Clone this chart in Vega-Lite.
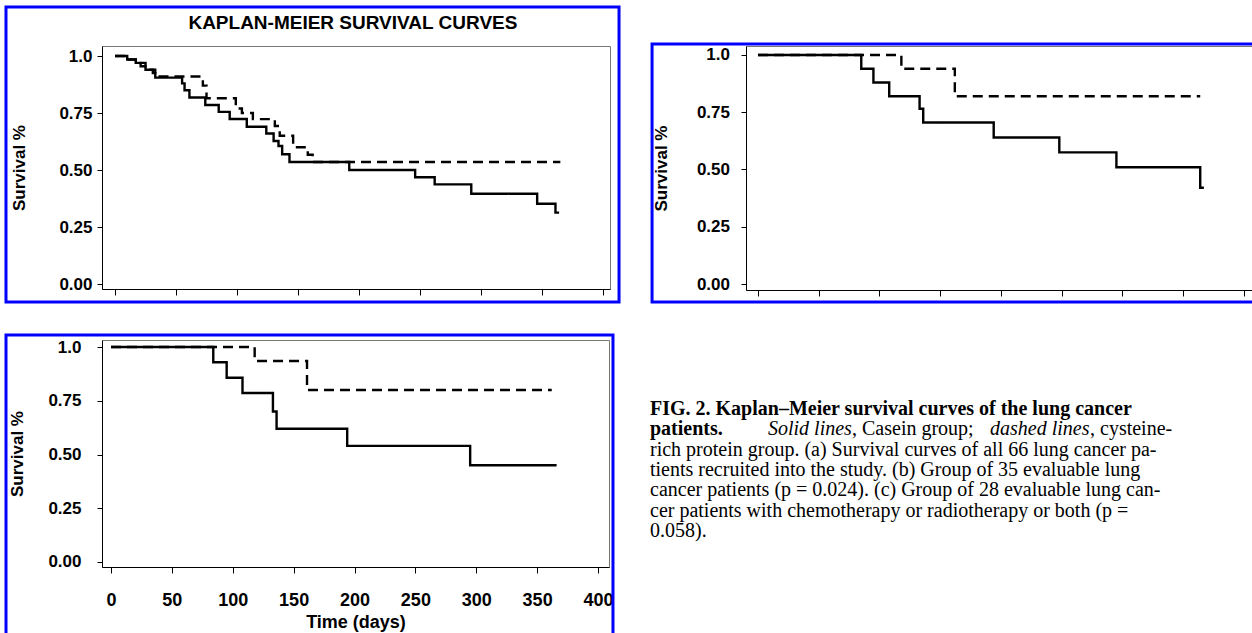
{
  "$schema": "https://vega.github.io/schema/vega-lite/v6.json",
  "padding": {"left": 3, "top": 4, "right": 0, "bottom": 0},
  "background": "white",
  "config": {
    "view": {"stroke": "#777", "strokeWidth": 1},
    "axis": {"domainColor": "#000", "tickColor": "#000", "labelColor": "#000", "titleColor": "#000", "labelFont": "Liberation Sans", "titleFont": "Liberation Sans", "labelFontWeight": "bold", "titleFontWeight": "bold", "labelFontSize": 17, "titleFontSize": 17, "grid": false, "tickSize": 5, "domainWidth": 1, "tickWidth": 1}
  },
  "datasets": {
    "km": [
      {"panel": "a", "group": "Casein", "day": 0, "surv": 1.0},
      {"panel": "a", "group": "Casein", "day": 10, "surv": 0.985},
      {"panel": "a", "group": "Casein", "day": 17, "surv": 0.97},
      {"panel": "a", "group": "Casein", "day": 21, "surv": 0.955},
      {"panel": "a", "group": "Casein", "day": 25, "surv": 0.94},
      {"panel": "a", "group": "Casein", "day": 31, "surv": 0.925},
      {"panel": "a", "group": "Casein", "day": 33, "surv": 0.905},
      {"panel": "a", "group": "Casein", "day": 55, "surv": 0.88},
      {"panel": "a", "group": "Casein", "day": 57, "surv": 0.85},
      {"panel": "a", "group": "Casein", "day": 61, "surv": 0.818},
      {"panel": "a", "group": "Casein", "day": 74, "surv": 0.785},
      {"panel": "a", "group": "Casein", "day": 85, "surv": 0.755},
      {"panel": "a", "group": "Casein", "day": 94, "surv": 0.724},
      {"panel": "a", "group": "Casein", "day": 108, "surv": 0.69},
      {"panel": "a", "group": "Casein", "day": 124, "surv": 0.66},
      {"panel": "a", "group": "Casein", "day": 130, "surv": 0.627},
      {"panel": "a", "group": "Casein", "day": 134, "surv": 0.605},
      {"panel": "a", "group": "Casein", "day": 137, "surv": 0.569},
      {"panel": "a", "group": "Casein", "day": 143, "surv": 0.535},
      {"panel": "a", "group": "Casein", "day": 192, "surv": 0.5},
      {"panel": "a", "group": "Casein", "day": 246, "surv": 0.468},
      {"panel": "a", "group": "Casein", "day": 262, "surv": 0.437},
      {"panel": "a", "group": "Casein", "day": 292, "surv": 0.396},
      {"panel": "a", "group": "Casein", "day": 346, "surv": 0.352},
      {"panel": "a", "group": "Casein", "day": 361, "surv": 0.313},
      {"panel": "a", "group": "Casein", "day": 364, "surv": 0.313},
      {"panel": "a", "group": "Cysteine-rich protein", "day": 0, "surv": 1.0},
      {"panel": "a", "group": "Cysteine-rich protein", "day": 10, "surv": 0.985},
      {"panel": "a", "group": "Cysteine-rich protein", "day": 17, "surv": 0.97},
      {"panel": "a", "group": "Cysteine-rich protein", "day": 25, "surv": 0.94},
      {"panel": "a", "group": "Cysteine-rich protein", "day": 33, "surv": 0.91},
      {"panel": "a", "group": "Cysteine-rich protein", "day": 72, "surv": 0.87},
      {"panel": "a", "group": "Cysteine-rich protein", "day": 75, "surv": 0.815},
      {"panel": "a", "group": "Cysteine-rich protein", "day": 99, "surv": 0.77},
      {"panel": "a", "group": "Cysteine-rich protein", "day": 104, "surv": 0.75},
      {"panel": "a", "group": "Cysteine-rich protein", "day": 113, "surv": 0.723},
      {"panel": "a", "group": "Cysteine-rich protein", "day": 131, "surv": 0.693},
      {"panel": "a", "group": "Cysteine-rich protein", "day": 135, "surv": 0.65},
      {"panel": "a", "group": "Cysteine-rich protein", "day": 146, "surv": 0.6},
      {"panel": "a", "group": "Cysteine-rich protein", "day": 158, "surv": 0.567},
      {"panel": "a", "group": "Cysteine-rich protein", "day": 162, "surv": 0.535},
      {"panel": "a", "group": "Cysteine-rich protein", "day": 365, "surv": 0.535},
      {"panel": "b", "group": "Casein", "day": 0, "surv": 1.0},
      {"panel": "b", "group": "Casein", "day": 85, "surv": 0.94},
      {"panel": "b", "group": "Casein", "day": 95, "surv": 0.88},
      {"panel": "b", "group": "Casein", "day": 108, "surv": 0.82},
      {"panel": "b", "group": "Casein", "day": 133, "surv": 0.765},
      {"panel": "b", "group": "Casein", "day": 136, "surv": 0.705},
      {"panel": "b", "group": "Casein", "day": 194, "surv": 0.64},
      {"panel": "b", "group": "Casein", "day": 248, "surv": 0.575},
      {"panel": "b", "group": "Casein", "day": 295, "surv": 0.51},
      {"panel": "b", "group": "Casein", "day": 364, "surv": 0.42},
      {"panel": "b", "group": "Casein", "day": 367, "surv": 0.42},
      {"panel": "b", "group": "Cysteine-rich protein", "day": 0, "surv": 1.0},
      {"panel": "b", "group": "Cysteine-rich protein", "day": 118, "surv": 0.94},
      {"panel": "b", "group": "Cysteine-rich protein", "day": 162, "surv": 0.82},
      {"panel": "b", "group": "Cysteine-rich protein", "day": 364, "surv": 0.82},
      {"panel": "c", "group": "Casein", "day": 0, "surv": 1.0},
      {"panel": "c", "group": "Casein", "day": 84, "surv": 0.929},
      {"panel": "c", "group": "Casein", "day": 95, "surv": 0.857},
      {"panel": "c", "group": "Casein", "day": 108, "surv": 0.786},
      {"panel": "c", "group": "Casein", "day": 133, "surv": 0.7},
      {"panel": "c", "group": "Casein", "day": 136, "surv": 0.62},
      {"panel": "c", "group": "Casein", "day": 194, "surv": 0.54},
      {"panel": "c", "group": "Casein", "day": 295, "surv": 0.45},
      {"panel": "c", "group": "Casein", "day": 366, "surv": 0.45},
      {"panel": "c", "group": "Cysteine-rich protein", "day": 0, "surv": 1.0},
      {"panel": "c", "group": "Cysteine-rich protein", "day": 118, "surv": 0.935},
      {"panel": "c", "group": "Cysteine-rich protein", "day": 161, "surv": 0.8},
      {"panel": "c", "group": "Cysteine-rich protein", "day": 362, "surv": 0.8}
    ],
    "caption_bold": [
      {"line": 1, "text": "FIG. 2. Kaplan–Meier survival curves of the lung cancer"},
      {"line": 2, "text": "patients."}
    ],
    "caption_line2": [
      {"seg": 1, "line": 2, "text": "Solid lines"},
      {"seg": 2, "line": 2, "text": ", Casein group;"},
      {"seg": 3, "line": 2, "text": "dashed lines"},
      {"seg": 4, "line": 2, "text": ", cysteine-"}
    ],
    "caption_text": [
      {"line": 3, "text": "rich protein group. (a) Survival curves of all 66 lung cancer pa-"},
      {"line": 4, "text": "tients recruited into the study. (b) Group of 35 evaluable lung"},
      {"line": 5, "text": "cancer patients (p = 0.024). (c) Group of 28 evaluable lung can-"},
      {"line": 6, "text": "cer patients with chemotherapy or radiotherapy or both (p ="},
      {"line": 7, "text": "0.058)."}
    ]
  },
  "columns": 2,
  "align": {"row": "each", "column": "none"},
  "spacing": {"row": 28, "column": 28},
  "concat": [
    {
      "width": 508,
      "height": 243,
      "layer": [
        {
          "data": {"values": [{}]},
          "mark": {"type": "rect", "filled": false, "stroke": "#0000ff", "strokeWidth": 3},
          "encoding": {
            "x": {"datum": -89.35, "type": "quantitative"},
            "x2": {"datum": 413.1},
            "y": {"datum": -0.079, "type": "quantitative"},
            "y2": {"datum": 1.215}
          }
        },
        {
          "data": {"values": [{}]},
          "mark": {"type": "text", "align": "center", "baseline": "alphabetic", "font": "Liberation Sans", "fontWeight": "bold", "fontSize": 19, "color": "#000"},
          "encoding": {
            "x": {"datum": 195, "type": "quantitative"},
            "y": {"datum": 1.118, "type": "quantitative"},
            "text": {"value": "KAPLAN-MEIER SURVIVAL CURVES"}
          }
        },
        {
          "data": {"name": "km"},
          "transform": [{"filter": "datum.panel === 'a'"}],
          "mark": {"type": "line", "interpolate": "step-after", "color": "#000", "strokeWidth": 2.4},
          "encoding": {
            "x": {"field": "day", "type": "quantitative", "scale": {"domain": [-10.66, 405.7], "nice": false, "zero": false}, "axis": {"values": [0, 50, 100, 150, 200, 250, 300, 350, 400], "labels": false, "tickSize": 6, "title": null}},
            "y": {"field": "surv", "type": "quantitative", "scale": {"domain": [-0.0219, 1.0439], "nice": false, "zero": false}, "axis": {"values": [0, 0.25, 0.5, 0.75, 1], "labelExpr": "datum.value == 1 ? '1.0' : format(datum.value, '.2f')", "labelPadding": 5, "title": "Survival   %", "titleX": -83, "titleBaseline": "middle"}},
            "strokeDash": {"field": "group", "type": "nominal", "scale": {"domain": ["Casein", "Cysteine-rich protein"], "range": [[1, 0], [10, 6]]}, "legend": null}
          }
        }
      ]
    },
    {
      "width": 510,
      "height": 244,
      "layer": [
        {
          "data": {"values": [{}]},
          "mark": {"type": "rect", "filled": false, "stroke": "#0000ff", "strokeWidth": 3},
          "encoding": {
            "x": {"datum": -87.2, "type": "quantitative"},
            "x2": {"datum": 414.8},
            "y": {"datum": -0.0786, "type": "quantitative"},
            "y2": {"datum": 1.048}
          }
        },
        {
          "data": {"name": "km"},
          "transform": [{"filter": "datum.panel === 'b'"}],
          "mark": {"type": "line", "interpolate": "step-after", "color": "#000", "strokeWidth": 2.4},
          "encoding": {
            "x": {"field": "day", "type": "quantitative", "scale": {"domain": [-9.877, 409.9], "nice": false, "zero": false}, "axis": {"values": [0, 50, 100, 150, 200, 250, 300, 350, 400], "labels": false, "tickSize": 6, "title": null}},
            "y": {"field": "surv", "type": "quantitative", "scale": {"domain": [-0.0262, 1.0393], "nice": false, "zero": false}, "axis": {"values": [0, 0.25, 0.5, 0.75, 1], "labelExpr": "datum.value == 1 ? '1.0' : format(datum.value, '.2f')", "labelPadding": 11.5, "title": "Survival   %", "titleX": -85, "titleBaseline": "middle"}},
            "strokeDash": {"field": "group", "type": "nominal", "scale": {"domain": ["Casein", "Cysteine-rich protein"], "range": [[1, 0], [10, 6]]}, "legend": null}
          }
        }
      ]
    },
    {
      "width": 507,
      "height": 227,
      "layer": [
        {
          "data": {"values": [{}]},
          "mark": {"type": "rect", "filled": false, "stroke": "#0000ff", "strokeWidth": 3},
          "encoding": {
            "x": {"datum": -86.24, "type": "quantitative"},
            "x2": {"datum": 412.3},
            "y": {"datum": -0.363, "type": "quantitative"},
            "y2": {"datum": 1.0558}
          }
        },
        {
          "data": {"name": "km"},
          "transform": [{"filter": "datum.panel === 'c'"}],
          "mark": {"type": "line", "interpolate": "step-after", "color": "#000", "strokeWidth": 2.4},
          "encoding": {
            "x": {"field": "day", "type": "quantitative", "scale": {"domain": [-7.39, 409.03], "nice": false, "zero": false}, "axis": {"values": [0, 50, 100, 150, 200, 250, 300, 350, 400], "tickSize": 6, "labelFontSize": 18, "labelPadding": 27, "labelBaseline": "middle", "title": "Time (days)", "titleFontSize": 18, "titleY": 55, "titleBaseline": "middle"}},
            "y": {"field": "surv", "type": "quantitative", "scale": {"domain": [-0.02326, 1.0326], "nice": false, "zero": false}, "axis": {"values": [0, 0.25, 0.5, 0.75, 1], "labelExpr": "datum.value == 1 ? '1.0' : format(datum.value, '.2f')", "labelPadding": 16, "title": "Survival   %", "titleX": -85, "titleBaseline": "middle"}},
            "strokeDash": {"field": "group", "type": "nominal", "scale": {"domain": ["Casein", "Cysteine-rich protein"], "range": [[1, 0], [10, 6]]}, "legend": null}
          }
        }
      ]
    },
    {
      "width": 606,
      "height": 227,
      "view": {"stroke": null},
      "encoding": {
        "x": {"datum": 0, "type": "quantitative", "scale": {"domain": [0, 1], "nice": false, "zero": false}, "axis": null},
        "y": {"field": "line", "type": "quantitative", "scale": {"domain": [-2.695, 8.487], "nice": false, "zero": false, "reverse": true}, "axis": null},
        "text": {"field": "text"}
      },
      "layer": [
        {"data": {"name": "caption_bold"}, "mark": {"type": "text", "align": "left", "baseline": "alphabetic", "font": "Liberation Serif", "fontSize": 20, "fontWeight": "bold", "color": "#000"}},
        {"data": {"name": "caption_line2"}, "transform": [{"filter": "datum.seg === 1"}], "mark": {"type": "text", "align": "left", "baseline": "alphabetic", "dx": 118, "font": "Liberation Serif", "fontSize": 20, "fontStyle": "italic", "color": "#000"}},
        {"data": {"name": "caption_line2"}, "transform": [{"filter": "datum.seg === 2"}], "mark": {"type": "text", "align": "left", "baseline": "alphabetic", "dx": 202, "font": "Liberation Serif", "fontSize": 20, "color": "#000"}},
        {"data": {"name": "caption_line2"}, "transform": [{"filter": "datum.seg === 3"}], "mark": {"type": "text", "align": "left", "baseline": "alphabetic", "dx": 340, "font": "Liberation Serif", "fontSize": 20, "fontStyle": "italic", "color": "#000"}},
        {"data": {"name": "caption_line2"}, "transform": [{"filter": "datum.seg === 4"}], "mark": {"type": "text", "align": "left", "baseline": "alphabetic", "dx": 440, "font": "Liberation Serif", "fontSize": 20, "color": "#000"}},
        {"data": {"name": "caption_text"}, "mark": {"type": "text", "align": "left", "baseline": "alphabetic", "font": "Liberation Serif", "fontSize": 20, "color": "#000"}}
      ]
    }
  ]
}
